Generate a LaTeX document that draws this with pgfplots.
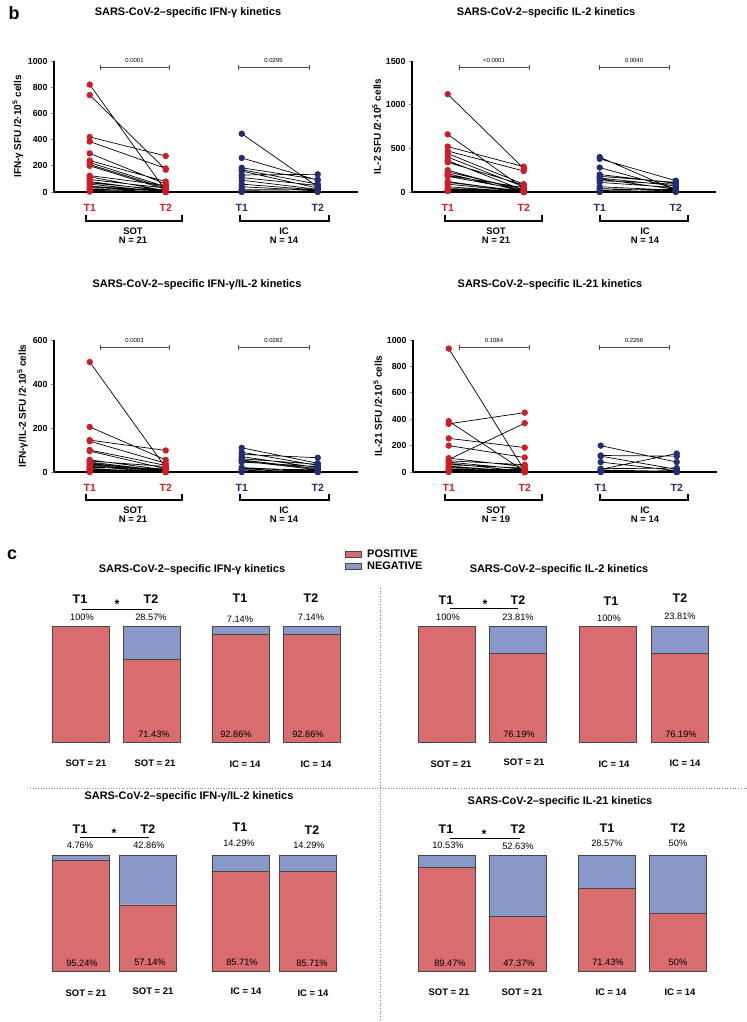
\documentclass[border=0pt]{standalone}
\usepackage{pgfplots}
\pgfplotsset{compat=1.18}
\usepackage{fontspec}
\setmainfont{Liberation Sans}

\definecolor{sotred}{RGB}{208,28,38}
\definecolor{icblue}{RGB}{34,46,112}
\definecolor{posred}{RGB}{217,108,110}
\definecolor{negblue}{RGB}{136,153,201}
\definecolor{barline}{RGB}{70,70,70}

\newcommand\fT{\bfseries\fontsize{11}{12}\selectfont}
\newcommand\fP{\fontsize{6}{7}\selectfont}
\newcommand\fG{\bfseries\fontsize{9.5}{11}\selectfont}
\newcommand\fBig{\bfseries\fontsize{12.5}{14}\selectfont}
\newcommand\fPct{\fontsize{9.3}{11}\selectfont}

\pgfplotsset{
  kin/.style={
    anchor=south west, scale only axis, width=304bp,
    xmin=-0.47, xmax=3.53, ymin=0,
    axis x line=bottom, axis y line=left,
    axis line style={-, line width=1.1bp},
    xtick={0,1,2,3},
    xticklabels={\textcolor{sotred}{T1},\textcolor{sotred}{T2},\textcolor{icblue}{T1},\textcolor{icblue}{T2}},
    xtick style={draw=none},
    xticklabel style={font=\bfseries\fontsize{10.5}{12}\selectfont, yshift=-6bp},
    ytick style={line width=1bp},
    major tick length=3bp, tick align=outside,
    yticklabel style={font=\bfseries\fontsize{8.8}{10}\selectfont},
    /pgf/number format/assume math mode=true,
    /pgf/number format/1000 sep={},
    ylabel style={font=\bfseries\fontsize{10}{11}\selectfont, yshift=-2bp},
    clip=false, unbounded coords=jump,
  },
  pairs/.style={black, line width=0.7bp, mark=*, mark size=2.8bp,
    mark options={draw=#1, fill=#1}},
  cbar/.style={
    anchor=south west, scale only axis, ybar stacked, bar width=57bp,
    width=301.75bp, height=116bp, xmin=-0.5, xmax=3.75, ymin=0, ymax=100,
    hide axis, clip=false,
  },
}

% group bracket below the T1/T2 labels
\newcommand\grp[3]{\draw[line width=1.3bp] (#1,#3) -- (#1,#3+6) -- (#2,#3+6) -- (#2,#3);}
% p-value bracket
\newcommand\pbr[4]{%
  \draw[line width=0.6bp, black!70] (#1,#3-2.5)--(#1,#3+2.5) (#1,#3)--(#2,#3) (#2,#3-2.5)--(#2,#3+2.5);
  \node[font=\fP] at ({(#1+#2)/2},#3-6.5) {#4};}

\begin{document}
\begin{tikzpicture}
\path[use as bounding box] (0,0) rectangle (747bp,-1022bp);

% ---------------- b: IFN-gamma
\begin{axis}[kin, at={(54bp,-192bp)}, height=131bp, ymax=1000,
  ytick={0,200,400,600,800,1000},
  ylabel={IFN-γ SFU /2·10\textsuperscript{5} cells}]
\addplot[pairs=sotred] coordinates {(0,820)(1,10)(0,nan) (0,740)(1,170)(0,nan)
  (0,420)(1,275)(0,nan) (0,385)(1,180)(0,nan) (0,295)(1,60)(0,nan) (0,240)(1,80)(0,nan)
  (0,225)(1,40)(0,nan) (0,210)(1,30)(0,nan) (0,200)(1,20)(0,nan) (0,125)(1,50)(0,nan)
  (0,115)(1,10)(0,nan) (0,95)(1,30)(0,nan) (0,80)(1,5)(0,nan) (0,70)(1,15)(0,nan)
  (0,60)(1,0)(0,nan) (0,45)(1,5)(0,nan) (0,35)(1,10)(0,nan) (0,25)(1,0)(0,nan)
  (0,15)(1,20)(0,nan) (0,8)(1,5)(0,nan) (0,3)(1,0)};
\addplot[pairs=icblue] coordinates {(2,445)(3,40)(2,nan) (2,260)(3,90)(2,nan)
  (2,185)(3,95)(2,nan) (2,170)(3,60)(2,nan) (2,160)(3,30)(2,nan) (2,130)(3,135)(2,nan)
  (2,110)(3,50)(2,nan) (2,90)(3,20)(2,nan) (2,60)(3,15)(2,nan) (2,40)(3,10)(2,nan)
  (2,20)(3,20)(2,nan) (2,10)(3,5)(2,nan) (2,5)(3,5)(2,nan) (2,0)(3,0)};
\end{axis}

% ---------------- b: IL-2
\begin{axis}[kin, at={(412bp,-192bp)}, height=131bp, ymax=1500,
  ytick={0,500,1000,1500},
  ylabel={IL-2 SFU /2·10\textsuperscript{5} cells}]
\addplot[pairs=sotred] coordinates {(0,1120)(1,270)(0,nan) (0,660)(1,40)(0,nan)
  (0,520)(1,290)(0,nan) (0,470)(1,240)(0,nan) (0,440)(1,90)(0,nan) (0,400)(1,60)(0,nan)
  (0,360)(1,20)(0,nan) (0,340)(1,80)(0,nan) (0,250)(1,10)(0,nan) (0,230)(1,30)(0,nan)
  (0,210)(1,5)(0,nan) (0,190)(1,50)(0,nan) (0,180)(1,20)(0,nan) (0,120)(1,0)(0,nan)
  (0,110)(1,10)(0,nan) (0,90)(1,5)(0,nan) (0,60)(1,0)(0,nan) (0,40)(1,10)(0,nan)
  (0,30)(1,0)(0,nan) (0,20)(1,5)(0,nan) (0,10)(1,0)};
\addplot[pairs=icblue] coordinates {(2,400)(3,20)(2,nan) (2,380)(3,130)(2,nan)
  (2,280)(3,40)(2,nan) (2,200)(3,100)(2,nan) (2,180)(3,110)(2,nan) (2,160)(3,70)(2,nan)
  (2,150)(3,30)(2,nan) (2,130)(3,90)(2,nan) (2,110)(3,50)(2,nan) (2,60)(3,20)(2,nan)
  (2,40)(3,10)(2,nan) (2,20)(3,30)(2,nan) (2,10)(3,5)(2,nan) (2,0)(3,0)};
\end{axis}

% ---------------- b: IFN-gamma/IL-2
\begin{axis}[kin, at={(54bp,-472bp)}, height=132bp, ymax=600,
  ytick={0,200,400,600},
  ylabel={IFN-γ/IL-2 SFU /2·10\textsuperscript{5} cells}]
\addplot[pairs=sotred] coordinates {(0,500)(1,20)(0,nan) (0,205)(1,55)(0,nan)
  (0,145)(1,98)(0,nan) (0,140)(1,40)(0,nan) (0,100)(1,30)(0,nan) (0,95)(1,15)(0,nan)
  (0,55)(1,10)(0,nan) (0,50)(1,25)(0,nan) (0,45)(1,5)(0,nan) (0,40)(1,0)(0,nan)
  (0,35)(1,10)(0,nan) (0,30)(1,5)(0,nan) (0,25)(1,0)(0,nan) (0,20)(1,15)(0,nan)
  (0,15)(1,0)(0,nan) (0,10)(1,5)(0,nan) (0,5)(1,0)(0,nan) (0,8)(1,3)(0,nan)
  (0,3)(1,0)(0,nan) (0,0)(1,0)(0,nan) (0,2)(1,1)};
\addplot[pairs=icblue] coordinates {(2,110)(3,40)(2,nan) (2,90)(3,30)(2,nan)
  (2,80)(3,65)(2,nan) (2,70)(3,20)(2,nan) (2,60)(3,35)(2,nan) (2,55)(3,15)(2,nan)
  (2,50)(3,10)(2,nan) (2,45)(3,25)(2,nan) (2,20)(3,5)(2,nan) (2,15)(3,10)(2,nan)
  (2,10)(3,5)(2,nan) (2,5)(3,0)(2,nan) (2,2)(3,0)(2,nan) (2,0)(3,0)};
\end{axis}

% ---------------- b: IL-21
\begin{axis}[kin, at={(413bp,-472bp)}, height=132bp, ymax=1000,
  ytick={0,200,400,600,800,1000},
  ylabel={IL-21 SFU /2·10\textsuperscript{5} cells}]
\addplot[pairs=sotred] coordinates {(0,935)(1,10)(0,nan) (0,385)(1,5)(0,nan)
  (0,365)(1,450)(0,nan) (0,255)(1,185)(0,nan) (0,200)(1,110)(0,nan) (0,105)(1,40)(0,nan)
  (0,95)(1,370)(0,nan) (0,85)(1,55)(0,nan) (0,75)(1,20)(0,nan) (0,65)(1,5)(0,nan)
  (0,55)(1,30)(0,nan) (0,45)(1,0)(0,nan) (0,35)(1,10)(0,nan) (0,25)(1,5)(0,nan)
  (0,20)(1,0)(0,nan) (0,15)(1,20)(0,nan) (0,10)(1,0)(0,nan) (0,5)(1,5)(0,nan) (0,0)(1,0)};
\addplot[pairs=icblue] coordinates {(2,200)(3,75)(2,nan) (2,125)(3,120)(2,nan)
  (2,120)(3,20)(2,nan) (2,75)(3,10)(2,nan) (2,25)(3,30)(2,nan) (2,20)(3,140)(2,nan)
  (2,15)(3,5)(2,nan) (2,12)(3,0)(2,nan) (2,10)(3,0)(2,nan) (2,8)(3,5)(2,nan)
  (2,5)(3,10)(2,nan) (2,3)(3,2)(2,nan) (2,2)(3,0)(2,nan) (2,0)(3,0)};
\end{axis}

% ---------------- c: stacked bars
\begin{axis}[cbar, at={(45bp,-742bp)}]
\addplot[fill=posred, draw=barline] coordinates {(0,100)(1,71.43)(2.25,92.86)(3.25,92.86)};
\addplot[fill=negblue, draw=barline] coordinates {(0,0)(1,28.57)(2.25,7.14)(3.25,7.14)};
\end{axis}
\begin{axis}[cbar, at={(411.5bp,-742bp)}]
\addplot[fill=posred, draw=barline] coordinates {(0,100)(1,76.19)(2.27,100)(3.28,76.19)};
\addplot[fill=negblue, draw=barline] coordinates {(0,0)(1,23.81)(2.27,0)(3.28,23.81)};
\end{axis}
\begin{axis}[cbar, at={(45bp,-971bp)}]
\addplot[fill=posred, draw=barline] coordinates {(0,95.24)(0.95,57.14)(2.25,85.71)(3.2,85.71)};
\addplot[fill=negblue, draw=barline] coordinates {(0,4.76)(0.95,42.86)(2.25,14.29)(3.2,14.29)};
\end{axis}
\begin{axis}[cbar, at={(411.5bp,-971bp)}]
\addplot[fill=posred, draw=barline] coordinates {(0,89.47)(0.99,47.37)(2.25,71.43)(3.25,50)};
\addplot[fill=negblue, draw=barline] coordinates {(0,10.53)(0.99,52.63)(2.25,28.57)(3.25,50)};
\end{axis}

% ---------------- annotations (pixel coordinates, y downwards)
\begin{scope}[x=1bp, y=-1bp, every node/.style={inner sep=0pt}]
\node[font=\bfseries\fontsize{18}{19}\selectfont] at (14,13) {b};
\node[font=\fT] at (188,13) {SARS-CoV-2–specific IFN-γ kinetics};
\node[font=\fT] at (546,13) {SARS-CoV-2–specific IL-2 kinetics};
\node[font=\fT] at (197,285) {SARS-CoV-2–specific IFN-γ/IL-2 kinetics};
\node[font=\fT] at (550,285) {SARS-CoV-2–specific IL-21 kinetics};

\pbr{100}{169}{67}{0.0001} \pbr{238}{309}{67}{0.0295}
\pbr{459}{529}{67}{<0.0001} \pbr{599}{669}{67}{0.0040}
\pbr{100}{169}{347}{0.0003} \pbr{238}{309}{347}{0.0282}
\pbr{459}{529}{347}{0.1084} \pbr{599}{669}{347}{0.2266}

\grp{86}{182}{215} \grp{240}{329}{215}
\grp{445}{542}{215} \grp{600}{688}{215}
\grp{86}{182}{494} \grp{240}{329}{494}
\grp{445}{542}{494} \grp{600}{688}{494}

\foreach \y/\n in {231/21, 510/21} {
  \node[font=\fG] at (133,\y) {SOT};
  \node[font=\fG] at (133,\y+9.5) {N = \n};
  \node[font=\fG] at (284,\y) {IC};
  \node[font=\fG] at (284,\y+9.5) {N = 14};}
\foreach \y/\n in {231/21, 510/19} {
  \node[font=\fG] at (496,\y) {SOT};
  \node[font=\fG] at (496,\y+9.5) {N = \n};
  \node[font=\fG] at (645,\y) {IC};
  \node[font=\fG] at (645,\y+9.5) {N = 14};}

% panel c
\node[font=\bfseries\fontsize{18}{19}\selectfont] at (12,555) {c};
\filldraw[fill=posred, draw=barline, line width=0.6bp] (345,551) rectangle (361,557);
\filldraw[fill=negblue, draw=barline, line width=0.6bp] (345,563) rectangle (361,569);
\node[font=\bfseries\fontsize{11}{12}\selectfont, anchor=west] at (367,554) {POSITIVE};
\node[font=\bfseries\fontsize{11}{12}\selectfont, anchor=west] at (367,566) {NEGATIVE};
\draw[gray, dotted, line width=0.7bp] (30,788) -- (747,788);
\draw[gray, dotted, line width=0.7bp] (380,588) -- (380,1022);

\node[font=\fT] at (192,570) {SARS-CoV-2–specific IFN-γ kinetics};
\node[font=\fT] at (559,570) {SARS-CoV-2–specific IL-2 kinetics};
\node[font=\fT] at (189,797) {SARS-CoV-2–specific IFN-γ/IL-2 kinetics};
\node[font=\fT] at (560,802) {SARS-CoV-2–specific IL-21 kinetics};

% top-left bars
\node[font=\fBig] at (80,599) {T1}; \node[font=\fBig] at (151,599) {T2};
\node[font=\fBig] at (240,598) {T1}; \node[font=\fBig] at (311,598) {T2};
\draw[line width=0.8bp] (82,609) -- (152,609); \node[font=\fBig] at (117,604) {*};
\node[font=\fPct] at (82,617) {100\%}; \node[font=\fPct] at (151,617) {28.57\%};
\node[font=\fPct] at (240,619) {7.14\%}; \node[font=\fPct] at (311,617) {7.14\%};
\node[font=\fPct] at (154,734) {71.43\%}; \node[font=\fPct] at (236,734) {92.86\%};
\node[font=\fPct] at (308,734) {92.86\%};
\node[font=\fG] at (86,763) {SOT = 21}; \node[font=\fG] at (155,763) {SOT = 21};
\node[font=\fG] at (245,764) {IC = 14}; \node[font=\fG] at (316,764) {IC = 14};

% top-right bars
\node[font=\fBig] at (446,600) {T1}; \node[font=\fBig] at (518,600) {T2};
\node[font=\fBig] at (611,601) {T1}; \node[font=\fBig] at (680,598) {T2};
\draw[line width=0.8bp] (450,608) -- (518,608); \node[font=\fBig] at (485,604) {*};
\node[font=\fPct] at (448,617) {100\%}; \node[font=\fPct] at (518,617) {23.81\%};
\node[font=\fPct] at (609,618) {100\%}; \node[font=\fPct] at (680,616) {23.81\%};
\node[font=\fPct] at (519,734) {76.19\%}; \node[font=\fPct] at (681,734) {76.19\%};
\node[font=\fG] at (451,764) {SOT = 21}; \node[font=\fG] at (524,762) {SOT = 21};
\node[font=\fG] at (614,764) {IC = 14}; \node[font=\fG] at (685,763) {IC = 14};

% bottom-left bars
\node[font=\fBig] at (80,829) {T1}; \node[font=\fBig] at (148,829) {T2};
\node[font=\fBig] at (240,827) {T1}; \node[font=\fBig] at (312,830) {T2};
\draw[line width=0.8bp] (80,837) -- (149,837); \node[font=\fBig] at (114,833) {*};
\node[font=\fPct] at (80,845) {4.76\%}; \node[font=\fPct] at (149,845) {42.86\%};
\node[font=\fPct] at (239,843) {14.29\%}; \node[font=\fPct] at (309,845) {14.29\%};
\node[font=\fPct] at (82,963) {95.24\%}; \node[font=\fPct] at (150,962) {57.14\%};
\node[font=\fPct] at (242,962) {85.71\%}; \node[font=\fPct] at (312,963) {85.71\%};
\node[font=\fG] at (86,993) {SOT = 21}; \node[font=\fG] at (153,991) {SOT = 21};
\node[font=\fG] at (246,991) {IC = 14}; \node[font=\fG] at (313,993) {IC = 14};

% bottom-right bars
\node[font=\fBig] at (446,829) {T1}; \node[font=\fBig] at (518,829) {T2};
\node[font=\fBig] at (607,828) {T1}; \node[font=\fBig] at (678,828) {T2};
\draw[line width=0.8bp] (450,838) -- (520,838); \node[font=\fBig] at (484,834) {*};
\node[font=\fPct] at (448,845) {10.53\%}; \node[font=\fPct] at (518,846) {52.63\%};
\node[font=\fPct] at (607,843) {28.57\%}; \node[font=\fPct] at (678,843) {50\%};
\node[font=\fPct] at (450,963) {89.47\%}; \node[font=\fPct] at (519,963) {47.37\%};
\node[font=\fPct] at (608,962) {71.43\%}; \node[font=\fPct] at (678,962) {50\%};
\node[font=\fG] at (449,992) {SOT = 21}; \node[font=\fG] at (522,992) {SOT = 21};
\node[font=\fG] at (611,992) {IC = 14}; \node[font=\fG] at (680,992) {IC = 14};
\end{scope}
\end{tikzpicture}
\end{document}
